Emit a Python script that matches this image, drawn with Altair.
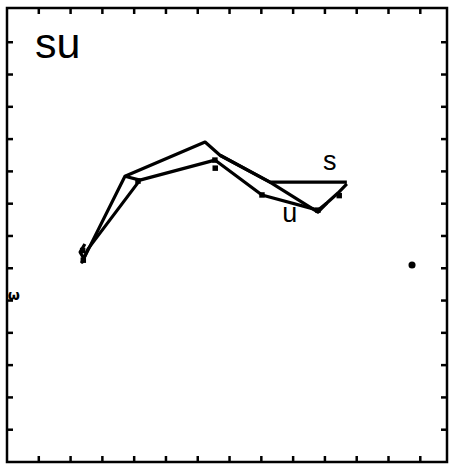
import altair as alt
import pandas as pd

# Trajectory "s" (upper path ending in horizontal segment)
s_x = [2.45, 2.30, 2.42, 2.36, 3.71, 6.23, 6.70, 8.27, 10.69]
s_y = [6.75, 6.50, 6.30, 6.19, 8.85, 9.91, 9.50, 8.67, 8.67]
# Trajectory "u" (lower path)
u_x = [2.36, 2.55, 4.18, 6.54, 8.02, 9.78, 10.06, 10.41, 10.69]
u_y = [6.19, 6.60, 8.73, 9.35, 8.27, 7.80, 8.02, 8.33, 8.61]
# connecting segments
c1_x = [6.70, 8.27, 9.78, 10.06]
c1_y = [9.50, 8.67, 7.74, 8.02]
c2_x = [3.71, 4.18]
c2_y = [8.85, 8.73]
# small node markers
m_x = [2.38, 2.40, 4.12, 6.54, 6.55, 8.02, 9.78, 10.45]
m_y = [6.55, 6.25, 8.70, 9.35, 9.10, 8.27, 7.80, 8.25]
# isolated dot
dot_x = [12.74]
dot_y = [6.10]
# tick positions
tick_vals = list(range(1, 14))

XD = [0, 13.84]
YD = [0, 14.06]
W, H = 440, 454

rows = []
for name, xs_, ys_ in [("s", s_x, s_y), ("u", u_x, u_y), ("c1", c1_x, c1_y), ("c2", c2_x, c2_y)]:
    for i, (a, b) in enumerate(zip(xs_, ys_)):
        rows.append({"g": name, "o": i, "x": a, "y": b})
lines_df = pd.DataFrame(rows)

xs = alt.Scale(domain=XD, nice=False, zero=False)
ys = alt.Scale(domain=YD, nice=False, zero=False)

lines = alt.Chart(lines_df).mark_line(color="black", strokeWidth=3.2, strokeJoin="round").encode(
    x=alt.X("x:Q", scale=xs, axis=None),
    y=alt.Y("y:Q", scale=ys, axis=None),
    detail="g:N",
    order="o:Q",
)

markers = alt.Chart(pd.DataFrame({"x": m_x, "y": m_y})).mark_square(color="black", size=30, opacity=1).encode(
    x=alt.X("x:Q", scale=xs, axis=None), y=alt.Y("y:Q", scale=ys, axis=None)
)

dot = alt.Chart(pd.DataFrame({"x": dot_x, "y": dot_y})).mark_circle(color="black", size=50, opacity=1).encode(
    x=alt.X("x:Q", scale=xs, axis=None), y=alt.Y("y:Q", scale=ys, axis=None)
)

labels_df = pd.DataFrame({
    "x": [0.88, 9.94, 8.66],
    "y": [12.51, 9.04, 7.43],
    "t": ["su", "s", "u"],
    "fs": [43, 27, 27],
})
labels = alt.Chart(labels_df).mark_text(
    align="left", baseline="alphabetic", font="Liberation Sans", color="black"
).encode(
    x=alt.X("x:Q", scale=xs, axis=None),
    y=alt.Y("y:Q", scale=ys, axis=None),
    text="t:N",
    size=alt.Size("fs:Q", scale=None, legend=None),
)

mark_df = pd.DataFrame({"x": [0.02], "y": [5.02], "t": ["ω"]})
edge_mark = alt.Chart(mark_df).mark_text(
    align="left", baseline="alphabetic", font="DejaVu Sans", fontSize=14, fontWeight="bold", color="black"
).encode(
    x=alt.X("x:Q", scale=xs, axis=None),
    y=alt.Y("y:Q", scale=ys, axis=None),
    text="t:N",
)

tdf = pd.DataFrame({"v": tick_vals})
bottom_ticks = alt.Chart(tdf).mark_rule(color="black", strokeWidth=2.5).encode(
    x=alt.X("v:Q", scale=xs, axis=None), y=alt.value(H), y2=alt.value(H - 6)
)
top_ticks = alt.Chart(tdf).mark_rule(color="black", strokeWidth=2.5).encode(
    x=alt.X("v:Q", scale=xs, axis=None), y=alt.value(0), y2=alt.value(6)
)
left_ticks = alt.Chart(tdf).mark_rule(color="black", strokeWidth=2.5).encode(
    y=alt.Y("v:Q", scale=ys, axis=None), x=alt.value(0), x2=alt.value(6)
)
right_ticks = alt.Chart(tdf).mark_rule(color="black", strokeWidth=2.5).encode(
    y=alt.Y("v:Q", scale=ys, axis=None), x=alt.value(W), x2=alt.value(W - 6)
)

chart = alt.layer(
    lines, markers, dot, labels, edge_mark, bottom_ticks, top_ticks, left_ticks, right_ticks
).properties(
    width=W, height=H,
    autosize=alt.AutoSizeParams(type="none"),
    padding={"left": 7, "top": 8, "right": 6, "bottom": 3},
    background="white",
).configure_view(stroke="black", strokeWidth=2.5)

chart.save("out.html", embed_options={"renderer": "svg", "actions": False})
